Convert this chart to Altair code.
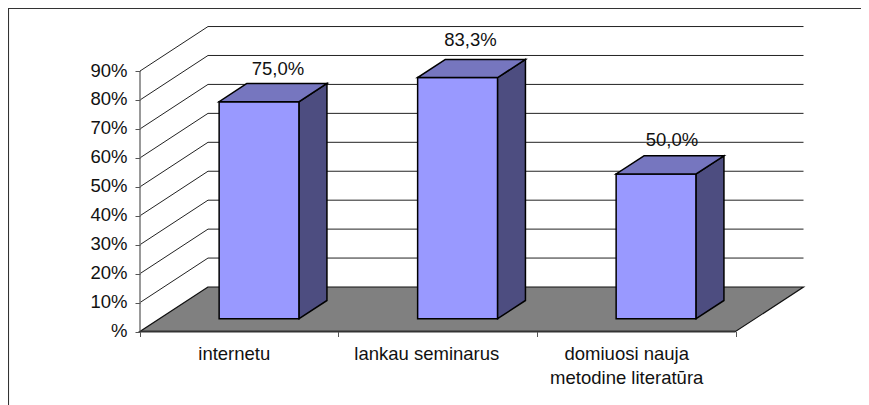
import altair as alt
import pandas as pd

# --- chart values ---
categories = ["internetu", "lankau seminarus", "domiuosi nauja\nmetodine literatūra"]
values = [75.0, 83.3, 50.0]
value_labels = ["75,0%", "83,3%", "50,0%"]
y_ticks = [0, 10, 20, 30, 40, 50, 60, 70, 80, 90]
x_ticks = [0, 1, 2, 3]

# --- layout (pseudo-3D projection) ---
W, H = 853, 397
X0, Y0 = 132.0, 323.5      # plot px of the front-left origin
CAT_PX, PCT_PX = 198.5, 2.894
DX = 68 / CAT_PX           # depth shift in category units
DY = 44.5 / PCT_PX         # depth shift in percent units
D0, D1 = 0.288, 0.697      # depth of the bar's front and back
BAR_L, BAR_W = 0.30, 0.403
FONT = "Liberation Sans"
FS = 18.5
LABEL_SHIFT_X = [0.695, 0.665, 0.68]
LABEL_SHIFT_Y = [5.1, 6.6, 5.6]
NAME_SHIFT_X = [0.475, 0.445, 0.452]

xs = alt.Scale(domain=[-X0 / CAT_PX, (W - X0) / CAT_PX], nice=False, zero=False)
ys = alt.Scale(domain=[-(H - Y0) / PCT_PX, Y0 / PCT_PX], nice=False, zero=False)
X = lambda f="x", **k: alt.X(f"{f}:Q", scale=xs, axis=None, **k)
Y = lambda f="y", **k: alt.Y(f"{f}:Q", scale=ys, axis=None, **k)

# back wall gridlines
grid = []
for v in y_ticks[1:]:
    for o, (x, y) in enumerate([(0, v), (DX, v + DY), (3 + DX, v + DY)]):
        grid.append(dict(g=v, o=o, x=x, y=y))
grid_l = alt.Chart(pd.DataFrame(grid)).mark_line(color="#222222", strokeWidth=1).encode(
    x=X(), y=Y(), detail="g:N", order="o:Q")

# floor
floor_df = pd.DataFrame([dict(y=0, x=0, x2=3), dict(y=DY, x=DX, x2=3 + DX)])
floor_l = alt.Chart(floor_df).mark_area(
    orient="horizontal", color="#808080", stroke="#111111", strokeWidth=1.2
).encode(x=X(), x2="x2:Q", y=Y())

# bars
fronts, tops, sides, labels, names = [], [], [], [], []
for i, (c, v, t) in enumerate(zip(categories, values, value_labels)):
    l = i + BAR_L + D0 * DX
    r = l + BAR_W
    fronts.append(dict(x=l, x2=r, y=D0 * DY, y2=v + D0 * DY))
    tops.append(dict(b=i, y=v + D0 * DY, x=l, x2=r))
    tops.append(dict(b=i, y=v + D1 * DY, x=l + (D1 - D0) * DX, x2=r + (D1 - D0) * DX))
    sides.append(dict(b=i, x=r, y=D0 * DY, y2=v + D0 * DY))
    sides.append(dict(b=i, x=r + (D1 - D0) * DX, y=D1 * DY, y2=v + D1 * DY))
    labels.append(dict(x=i + LABEL_SHIFT_X[i], y=v + D1 * DY + LABEL_SHIFT_Y[i], t=t))
    names.append(dict(x=i + NAME_SHIFT_X[i], y=0, t=c))

bar_stroke = dict(stroke="#000000", strokeWidth=1.5)
front_l = alt.Chart(pd.DataFrame(fronts)).mark_rect(color="#9999FF", **bar_stroke).encode(
    x=X(), x2="x2:Q", y=Y(), y2="y2:Q")
side_l = alt.Chart(pd.DataFrame(sides)).mark_area(color="#4D4D80", **bar_stroke).encode(
    x=X(), y=Y(), y2="y2:Q", detail="b:N")
top_l = alt.Chart(pd.DataFrame(tops)).mark_area(
    orient="horizontal", color="#7676BF", **bar_stroke
).encode(x=X(), x2="x2:Q", y=Y(), detail="b:N")

value_l = alt.Chart(pd.DataFrame(labels)).mark_text(
    font=FONT, fontSize=FS, color="#111111", baseline="middle", align="center"
).encode(x=X(), y=Y(), text="t:N")

name_l = alt.Chart(pd.DataFrame(names)).mark_text(
    font=FONT, fontSize=FS, color="#111111", baseline="top", align="center",
    lineBreak="\n", lineHeight=24, dy=13
).encode(x=X(), y=Y(), text="t:N")

# axes
axis_line = alt.Chart(pd.DataFrame({"x": [0], "y": [0], "y2": [90]})).mark_rule(
    color="#777777", strokeWidth=1.5
).encode(x=X(), y=Y(), y2="y2:Q")
base_line = alt.Chart(pd.DataFrame({"x": [0], "x2": [3], "y": [0]})).mark_rule(
    color="#333333", strokeWidth=2
).encode(x=X(), x2="x2:Q", y=Y())

y_axis = alt.Chart(pd.DataFrame({"y": y_ticks})).mark_point(opacity=0).encode(
    y=alt.Y("y:Q", scale=ys, axis=alt.Axis(
        values=y_ticks, offset=-X0, domain=False, grid=False, title=None,
        labelExpr="datum.value == 0 ? '%' : datum.value + '%'",
        labelFont=FONT, labelFontSize=FS, labelColor="#111111", labelOffset=-1,
        tickSize=5, tickColor="#555555", tickWidth=1, labelPadding=8, zindex=1)))
x_axis = alt.Chart(pd.DataFrame({"x": x_ticks})).mark_point(opacity=0).encode(
    x=alt.X("x:Q", scale=xs, axis=alt.Axis(
        values=x_ticks, offset=-(H - Y0), domain=False, grid=False, title=None,
        labels=False, tickSize=5, tickColor="#555555", tickWidth=1, zindex=1)))

# outer frame
frame_t = alt.Chart(pd.DataFrame({"a": [0]})).mark_rule(color="#333333", strokeWidth=1.5).encode(
    x=alt.value(0), x2=alt.value(W), y=alt.value(0.3))
frame_l = alt.Chart(pd.DataFrame({"a": [0]})).mark_rule(color="#333333", strokeWidth=1.5).encode(
    x=alt.value(0.3), y=alt.value(0), y2=alt.value(H))

chart = alt.layer(
    frame_t, frame_l, grid_l, floor_l, axis_line, base_line,
    front_l, side_l, top_l, value_l, name_l, y_axis, x_axis
).resolve_scale(x="shared", y="shared").resolve_axis(x="independent", y="independent").properties(
    width=W, height=H, padding=0, autosize=alt.AutoSizeParams(type="none"),
    background="white"
).configure_view(stroke=None)

chart.save("out.html", embed_options={"renderer": "svg", "actions": False})
